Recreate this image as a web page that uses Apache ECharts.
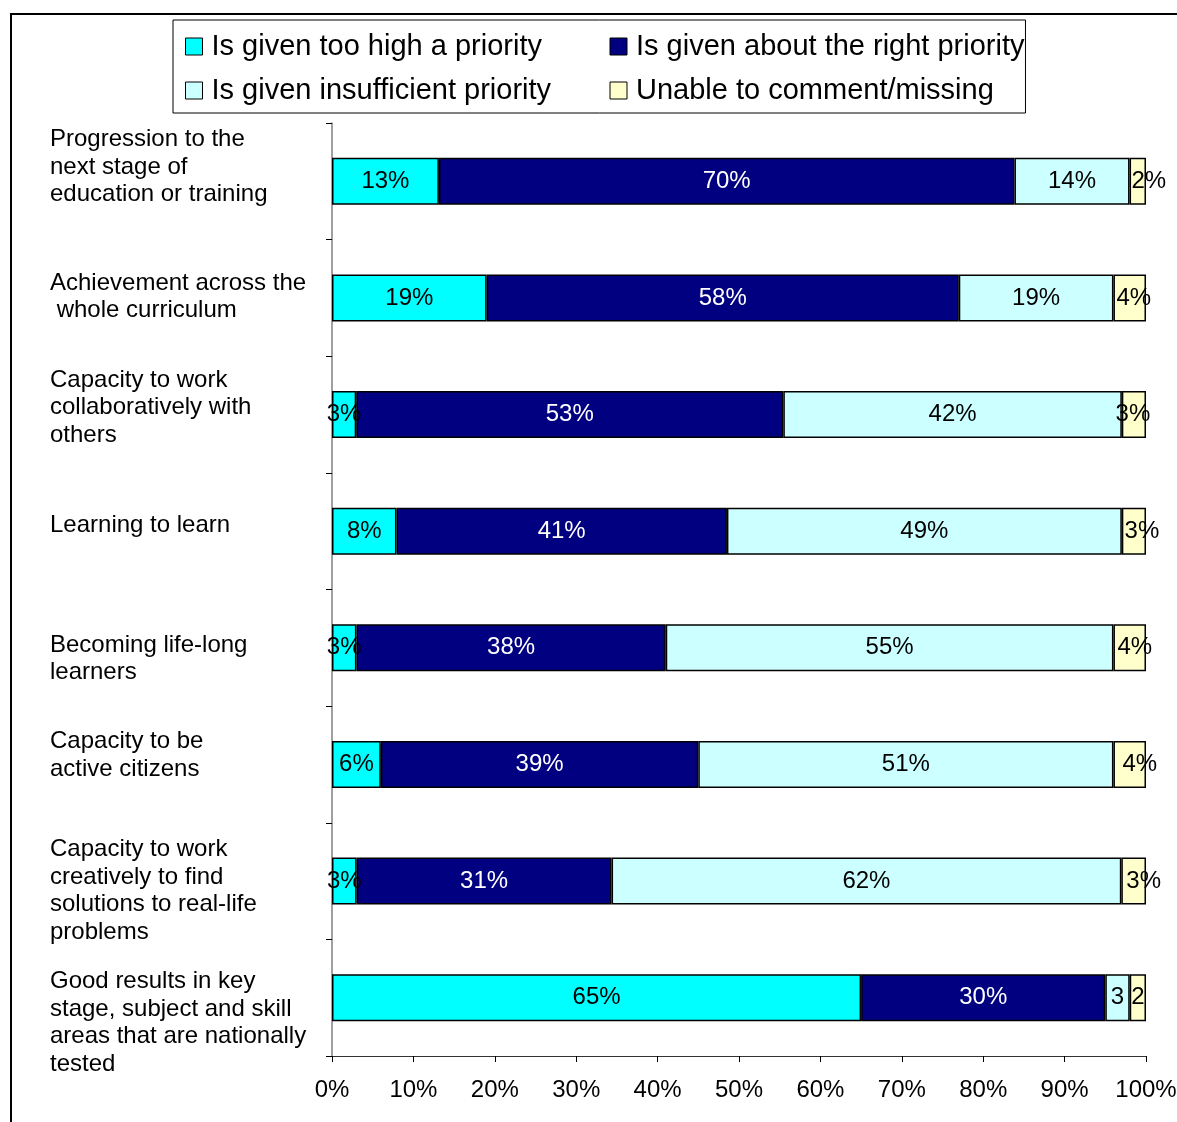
<!DOCTYPE html>
<html>
<head>
<meta charset="utf-8">
<style>
  html, body { margin: 0; padding: 0; background: #fff; }
  #chart { width: 1177px; height: 1122px; }
</style>
<script src="https://cdn.jsdelivr.net/npm/echarts@6/dist/echarts.min.js"></script>
</head>
<body>
<div id="chart"></div>
<script>
// Survey statements (top to bottom)
const categories = [
  'Progression to the\nnext stage of\neducation or training',
  'Achievement across the\n whole curriculum',
  'Capacity to work\ncollaboratively with\nothers',
  'Learning to learn',
  'Becoming life-long\nlearners',
  'Capacity to be\nactive citizens',
  'Capacity to work\ncreatively to find\nsolutions to real-life\nproblems',
  'Good results in key\nstage, subject and skill\nareas that are nationally\ntested'
];

// Percentage of responses per statement
const tooHigh      = [13, 19, 3, 8, 3, 6, 3, 65];
const aboutRight   = [70, 58, 53, 41, 38, 39, 31, 30];
const insufficient = [14, 19, 42, 49, 55, 51, 62, 3];
const unable       = [2, 4, 3, 3, 4, 4, 3, 2];

const seriesNames = [
  'Is given too high a priority',
  'Is given about the right priority',
  'Is given insufficient priority',
  'Unable to comment/missing'
];

const xTickLabels = ['0%', '10%', '20%', '30%', '40%', '50%', '60%', '70%', '80%', '90%', '100%'];

// Cells whose label is printed without the % sign (row, series)
const bareCells = [[7, 2], [7, 3]];

// ---- presentation ----
const FONT = '"Liberation Sans", Arial, sans-serif';
const colors = ['#00FFFF', '#000080', '#CCFFFF', '#FFFFCC'];
const labelColors = ['#000', '#fff', '#000', '#000'];
// vertical nudge of each category label block (px, + = down)
const labelNudge = [-14, -1, -7, -6, 11, -9, 10, 25];
// horizontal nudge of the narrow "unable" labels (px, + = right)
const unableLabelShift = [11, 4, -1, 8, 5, 10, 10, 0];

const rawSeries = [tooHigh, aboutRight, insufficient, unable];
const rowTotals = categories.map((_, i) => rawSeries.reduce((s, arr) => s + arr[i], 0));

const chart = echarts.init(document.getElementById('chart'), null, { renderer: 'canvas' });

const series = rawSeries.map((arr, si) => ({
  name: seriesNames[si],
  type: 'bar',
  stack: 'total',
  barWidth: 47,
  itemStyle: { color: colors[si], borderColor: '#000', borderWidth: 1.5 },
  label: {
    show: true,
    position: 'inside',
    color: labelColors[si],
    fontFamily: FONT,
    fontSize: 24,
    formatter: (p) => {
      const v = arr[p.dataIndex];
      const bare = bareCells.some(c => c[0] === p.dataIndex && c[1] === si);
      return bare ? String(v) : v + '%';
    }
  },
  emphasis: { disabled: true },
  // each row is shown as shares of its own total (100% stacked)
  data: arr.map((v, i) => {
    const share = v / rowTotals[i] * 100;
    return si === 3 ? { value: share, label: { offset: [unableLabelShift[i], 0] } } : share;
  })
}));

// category label: text lines plus an invisible spacer line that nudges the block
const rich = {
  t: { fontFamily: FONT, fontSize: 24, lineHeight: 27.5, color: '#000' }
};
labelNudge.forEach((n, i) => {
  rich['s' + i] = { fontSize: 1, lineHeight: Math.max(1, Math.abs(n) * 2) };
});
function categoryLabel(value, index) {
  const body = value.split('\n').map(l => '{t|' + l + '}').join('\n');
  const n = labelNudge[index];
  if (!n) return body;
  const spacer = '{s' + index + '| }';
  return n > 0 ? spacer + '\n' + body : body + '\n' + spacer;
}

const option = {
  animation: false,
  backgroundColor: '#fff',
  textStyle: { fontFamily: FONT },
  graphic: [{
    type: 'rect',
    shape: { x: 11, y: 14, width: 1300, height: 1300 },
    style: { fill: 'none', stroke: '#000', lineWidth: 2 },
    silent: true,
    z: -1
  }],
  legend: {
    left: 173,
    top: 20,
    width: 900,
    orient: 'horizontal',
    padding: [12, 1, 8, 12],
    itemGap: 15,
    itemWidth: 17,
    itemHeight: 17,
    borderColor: '#000',
    borderWidth: 1,
    backgroundColor: '#fff',
    selectedMode: false,
    icon: 'rect',
    itemStyle: { borderColor: '#000', borderWidth: 1 },
    textStyle: {
      fontFamily: FONT,
      fontSize: 29,
      color: '#000',
      width: 383,
      lineHeight: 29,
      padding: [0, 0, 0, 4]
    },
    data: seriesNames
  },
  grid: {
    left: 332, right: 31, top: 123, bottom: 66,
    containLabel: false,
    outerBoundsMode: 'none'
  },
  xAxis: {
    type: 'value',
    min: 0,
    max: 100,
    interval: 10,
    axisLine: { show: true, lineStyle: { color: '#333', width: 1 } },
    axisTick: { show: true, length: 6, lineStyle: { color: '#000' } },
    splitLine: { show: false },
    axisLabel: {
      margin: 22,
      fontFamily: FONT,
      fontSize: 24,
      color: '#000',
      formatter: (v) => xTickLabels[Math.round(v / 10)]
    }
  },
  yAxis: {
    type: 'category',
    inverse: true,
    data: categories.map(c => ({ value: c, textStyle: { align: 'left' } })),
    axisLine: { show: true, lineStyle: { color: '#808080', width: 1.5 } },
    axisTick: { show: true, length: 6, alignWithLabel: false, lineStyle: { color: '#000' } },
    axisLabel: {
      interval: 0,
      hideOverlap: false,
      margin: 282,
      align: 'left',
      fontFamily: FONT,
      fontSize: 24,
      lineHeight: 27.5,
      color: '#000',
      formatter: categoryLabel,
      rich: rich
    }
  },
  series: series
};

chart.setOption(option);
</script>
</body>
</html>
